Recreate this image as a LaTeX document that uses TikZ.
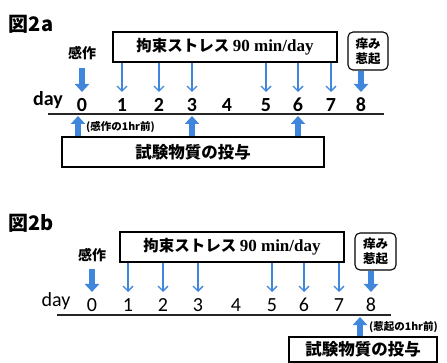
\documentclass[tikz,border=0pt]{standalone}
\usepackage{fontspec}
\setmainfont{Carlito}
\newfontfamily\jp{Noto Sans CJK JP}
\newfontfamily\serifb{Liberation Serif}
\usetikzlibrary{arrows.meta}
\definecolor{arrblue}{HTML}{3F86DC}
\tikzset{
  box/.style={draw=black, line width=1.1pt, fill=white, inner sep=0pt},
  rbox/.style={box, rounded corners=5pt, align=center, font=\jp\bfseries\fontsize{12.5}{15}\selectfont},
  jplabel/.style={inner sep=0pt, font=\jp\bfseries\fontsize{14}{14}\selectfont},
  title/.style={inner sep=0pt, font=\jp\bfseries\fontsize{20}{20}\selectfont},
  daynum/.style={inner sep=0pt, font=\fontsize{20}{20}\selectfont},
  daylbl/.style={inner sep=0pt, font=\fontsize{20}{20}\selectfont},
  note/.style={inner sep=0pt, font=\jp\bfseries\fontsize{10.5}{11}\selectfont},
  thinarrow/.style={draw=arrblue, line width=1.4pt, -{Straight Barb[length=5pt,width=10pt,line width=1.4pt]}},
  thickarrow/.style={draw=arrblue, line width=6pt, -{Triangle[length=8pt,width=14pt]}},
  axis/.style={draw=black!85, line width=1.1pt}
}
\begin{document}
\begin{tikzpicture}[x=1pt,y=-1pt]
\useasboundingbox (0,0) rectangle (447,363);
% ---------- panel a ----------
\node[title] (ta) at (31,24) {図2a};
\node[box, minimum width=224pt, minimum height=30pt, font=\fontsize{15.5}{16}\selectfont] (ra) at (225,47)
  {{\jp\bfseries 拘束ストレス}\ {\serifb\bfseries\fontsize{17}{17}\selectfont 90 min/day}};
\node[rbox, minimum width=40pt, minimum height=38pt] (rka) at (368,51) {痒み\\惹起};
\node[jplabel] (kza) at (82,53) {感作};
\node[daylbl, font=\bfseries\fontsize{20}{20}\selectfont] (dya) at (48,100) {day};
\foreach \i/\x in {0/82,1/122,2/159,3/192,4/227,5/266,6/298,7/331,8/361}
  \node[daynum, font=\bfseries\fontsize{20}{20}\selectfont] (a\i) at (\x,105) {\i};
\coordinate (la1) at (48,114);
\coordinate (la2) at (384,114);
\draw[axis] (la1) -- (la2);
\coordinate (yA) at (0,92);
\coordinate (yAs) at (0,68);
\coordinate (yAu) at (0,116);
\foreach \i in {1,2,3,5,6,7}
  \draw[thinarrow] (ra.south -| a\i) -- (a\i |- yA);
\draw[thickarrow] (a0 |- yAs) -- (a0 |- yA);
\draw[thickarrow] (rka.south -| a8) -- (a8 |- yA);
\node[box, minimum width=262pt, minimum height=30pt, font=\jp\bfseries\fontsize{16.5}{17}\selectfont] (ba) at (193,152) {試験物質の投与};
\coordinate (ua0) at (78,0);
\draw[thickarrow] (ba.north -| ua0) -- (ua0 |- yAu);
\foreach \i in {3,6}
  \draw[thickarrow] (ba.north -| a\i) -- (a\i |- yAu);
\node[note, anchor=west] (na) at (86,127) {(感作の1hr前)};
% ---------- panel b ----------
\node[title] (tb) at (31,223) {図2b};
\node[box, minimum width=224pt, minimum height=30pt, font=\fontsize{15.5}{16}\selectfont] (rb) at (232,247)
  {{\jp\bfseries 拘束ストレス}\ {\serifb\bfseries\fontsize{17}{17}\selectfont 90 min/day}};
\node[rbox, minimum width=41pt, minimum height=37pt] (rkb) at (375.5,251.5) {痒み\\惹起};
\node[jplabel] (kzb) at (92,255) {感作};
\node[daylbl] (dyb) at (56,301) {day};
\foreach \i/\x in {0/92,1/128,2/163,3/198,4/236,5/272,6/304,7/339,8/371}
  \node[daynum] (b\i) at (\x,305) {\i};
\coordinate (lb1) at (57,315);
\coordinate (lb2) at (391,315);
\draw[axis] (lb1) -- (lb2);
\coordinate (yB) at (0,292);
\coordinate (yBs) at (0,269);
\coordinate (yBu) at (0,317);
\foreach \i in {1,2,3,5,6,7}
  \draw[thinarrow] (rb.south -| b\i) -- (b\i |- yB);
\draw[thickarrow] (b0 |- yBs) -- (b0 |- yB);
\draw[thickarrow] (rkb.south -| b8) -- (b8 |- yB);
\node[box, minimum width=148pt, minimum height=25pt, font=\jp\bfseries\fontsize{16.5}{17}\selectfont] (bb) at (363,349.5) {試験物質の投与};
\coordinate (ub) at (360,0);
\draw[thickarrow] (bb.north -| ub) -- (ub |- yBu);
\node[note, anchor=west] (nb) at (369,327) {(惹起の1hr前)};
\end{tikzpicture}
\end{document}
